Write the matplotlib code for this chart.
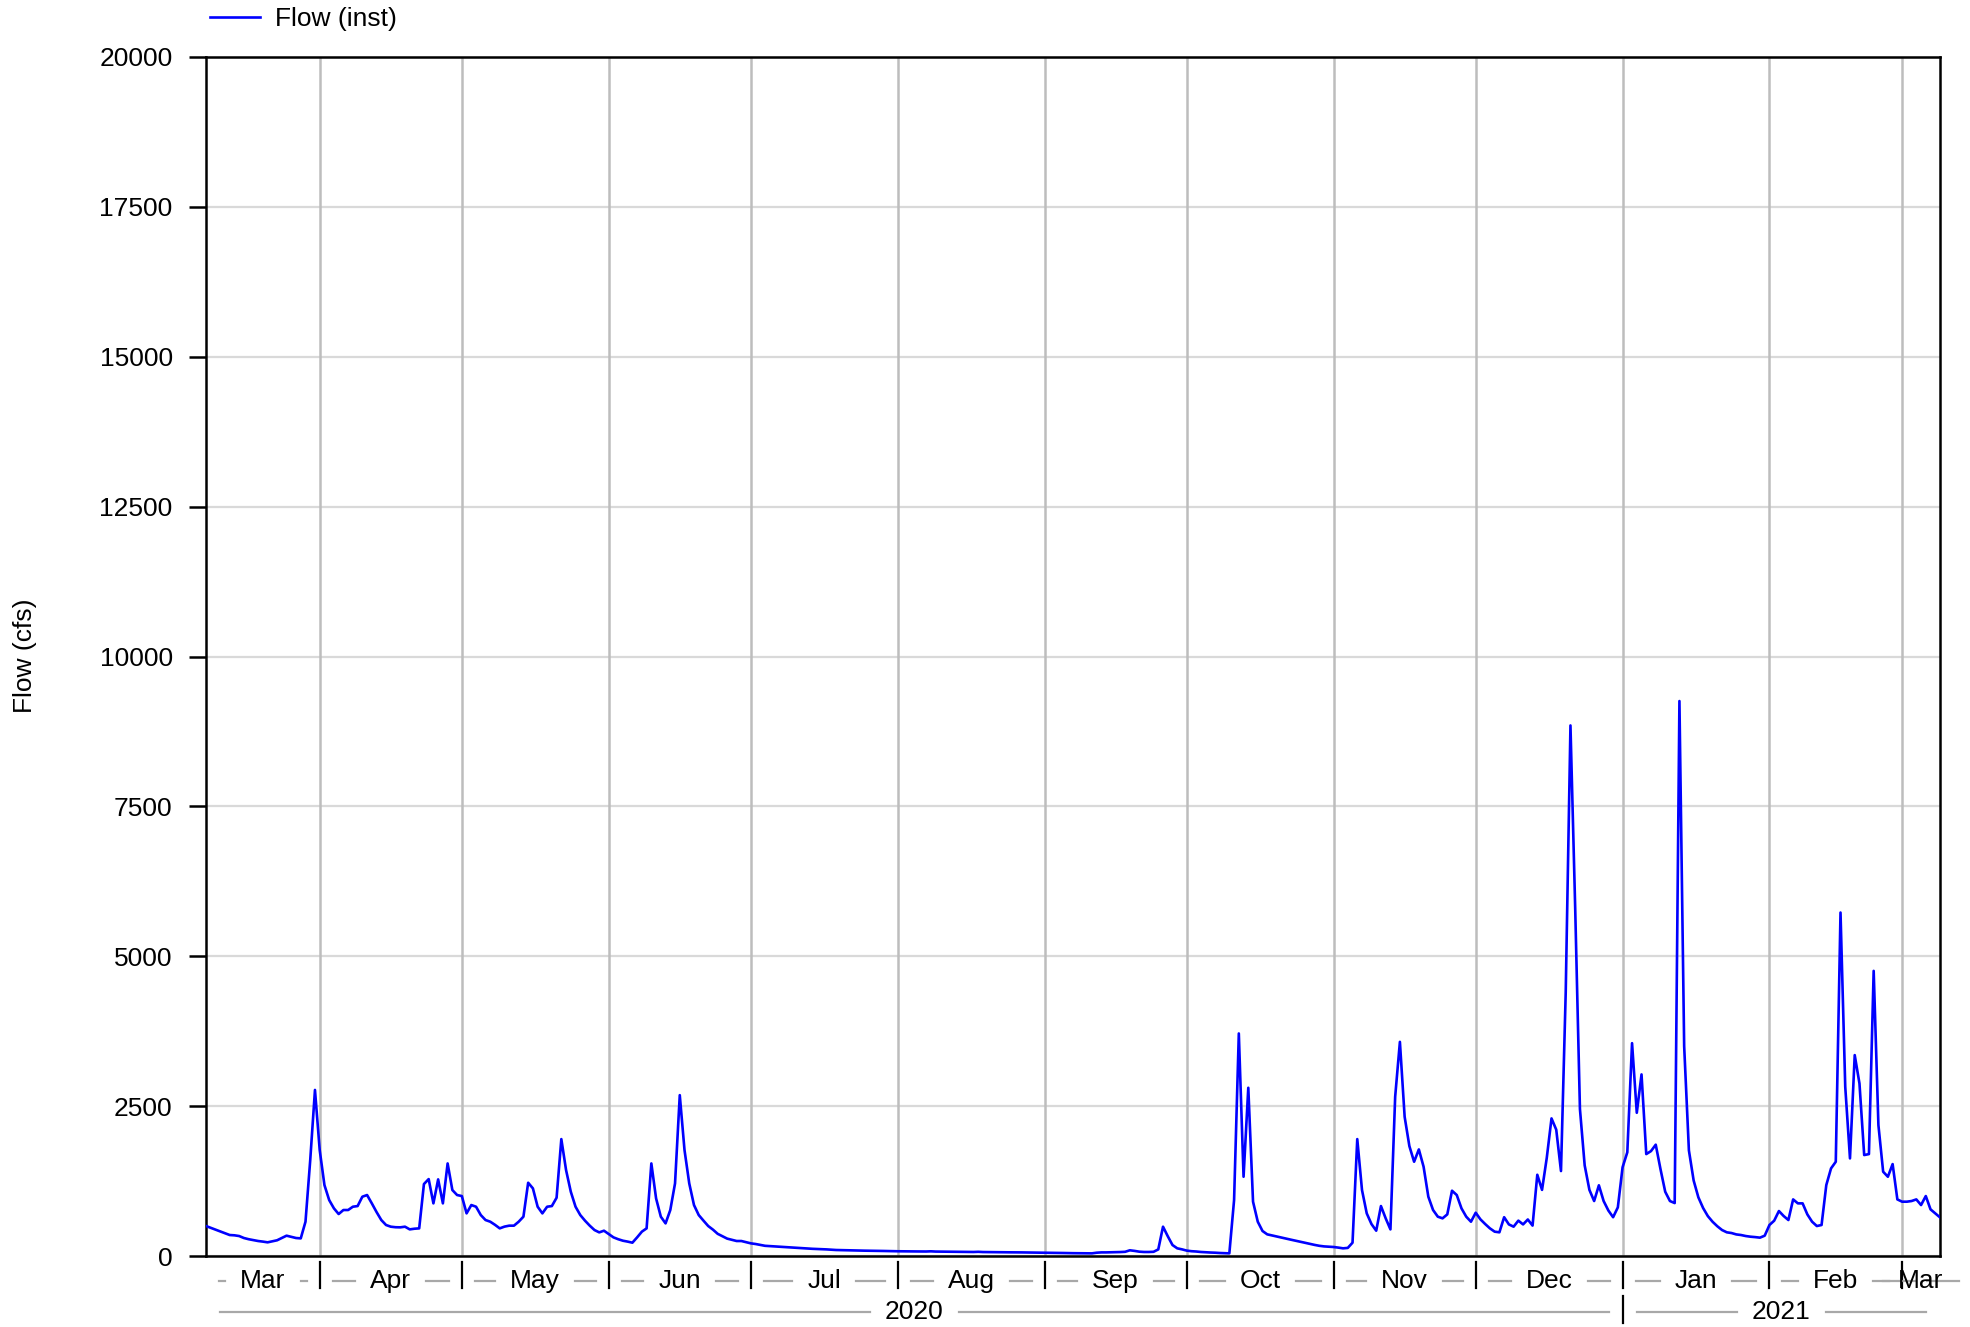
import datetime as dt
import numpy as np
import matplotlib
matplotlib.use("Agg")
import matplotlib.pyplot as plt
import matplotlib.dates as mdates
from matplotlib.transforms import blended_transform_factory

plt.rcParams['font.family'] = ['Liberation Sans', 'DejaVu Sans']

# daily flow (cfs), one list per month
start_day = dt.date(2020, 3, 8)
flow_mar20 = [500, 470, 440, 410, 380, 350, 345, 333, 300, 280, 265, 250, 240, 228,
              245, 262, 300, 339, 320, 300, 294, 572, 1600, 2770]
flow_apr20 = [1767, 1183, 933, 795, 700, 767, 767, 822, 833, 989, 1017, 878, 733, 600,
              517, 489, 480, 478, 489, 444, 455, 461, 1200, 1283, 878, 1278, 878, 1544,
              1100, 1017]
flow_may20 = [1000, 711, 850, 822, 683, 600, 572, 520, 461, 490, 506, 506, 572, 656,
              1222, 1128, 822, 711, 822, 833, 972, 1950, 1433, 1072, 822, 683, 589, 506,
              433, 394, 422]
flow_jun20 = [367, 311, 280, 255, 240, 222, 311, 406, 461, 1544, 961, 656, 544, 767,
              1211, 2683, 1767, 1211, 850, 683, 590, 500, 440, 370, 330, 290, 270, 250,
              250, 230]
flow_jul20 = [211, 200, 185, 170, 165, 160, 155, 150, 145, 140, 135, 130, 125, 120, 117,
              113, 110, 105, 100, 98, 96, 95, 93, 91, 89, 88, 87, 85, 84, 82, 80]
flow_aug20 = [79, 78, 78, 77, 76, 76, 75, 78, 74, 73, 72, 72, 71, 70, 69, 68, 67, 70, 66,
              65, 64, 64, 63, 62, 61, 61, 60, 59, 58, 57, 56]
flow_sep20 = [55, 54, 53, 52, 50, 48, 47, 46, 45, 44, 44, 55, 60, 60, 62, 64, 66, 70, 95,
              85, 72, 67, 67, 70, 110, 489, 330, 183, 128, 111]
flow_oct20 = [90, 80, 75, 67, 62, 58, 55, 50, 47, 44, 933, 3712, 1322, 2806, 906, 572,
              417, 361, 343, 326, 308, 290, 272, 255, 237, 220, 202, 185, 170, 160, 155]
flow_nov20 = [150, 140, 128, 135, 222, 1950, 1100, 711, 533, 422, 833, 628, 444, 2656,
              3572, 2322, 1833, 1572, 1778, 1489, 989, 767, 656, 628, 694, 1089, 1017,
              794, 656, 572]
flow_dec20 = [722, 611, 533, 461, 406, 395, 647, 527, 489, 590, 527, 609, 507, 1355, 1103,
              1637, 2295, 2107, 1417, 4400, 8850, 5800, 2452, 1512, 1103, 917, 1179, 917,
              759, 647, 811]
flow_jan21 = [1480, 1730, 3550, 2389, 3029, 1700, 1750, 1857, 1450, 1072, 917, 883, 9257,
              3500, 1762, 1260, 978, 800, 665, 571, 496, 433, 395, 383, 360, 350, 333,
              322, 315, 306, 339]
flow_feb21 = [517, 589, 750, 667, 600, 944, 878, 878, 694, 572, 500, 517, 1183, 1461,
              1572, 5729, 2822, 1628, 3351, 2878, 1684, 1700, 4756, 2184, 1406, 1322,
              1533, 944]
flow_mar21 = [906, 906, 917, 944, 850, 1000, 778, 711, 644]

month_names = ['Mar', 'Apr', 'May', 'Jun', 'Jul', 'Aug', 'Sep', 'Oct', 'Nov', 'Dec',
               'Jan', 'Feb', 'Mar']
year_names = ['2020', '2021']
y_ticks = np.arange(0, 20001, 2500)

flow = (flow_mar20 + flow_apr20 + flow_may20 + flow_jun20 + flow_jul20 + flow_aug20 +
        flow_sep20 + flow_oct20 + flow_nov20 + flow_dec20 + flow_jan21 + flow_feb21 +
        flow_mar21)
dates = [start_day + dt.timedelta(days=i) for i in range(len(flow))]
xnum = mdates.date2num(dates)

month_starts = [dt.date(2020, m, 1) for m in range(4, 13)] + \
               [dt.date(2021, m, 1) for m in (1, 2, 3)]
ms_num = mdates.date2num(month_starts)
jan1 = mdates.date2num(dt.date(2021, 1, 1))

FS = 19
W, H = 1970, 1327
fig = plt.figure(figsize=(W / 100, H / 100), dpi=100)
ax = fig.add_axes([206 / W, 1 - 1256 / H, (1940 - 206) / W, (1256 - 57) / H])

ax.plot(xnum, flow, color='#0000ff', lw=1.9, label='Flow (inst)', zorder=3)
ax.set_xlim(xnum[0], xnum[-1])
ax.set_ylim(0, 20000)
ax.set_yticks(y_ticks)
ax.set_yticklabels([str(v) for v in y_ticks])
ax.yaxis.grid(True, color='#d9d9d9', lw=1.6)
ax.set_axisbelow(True)
for m in ms_num:
    ax.axvline(m, color='#bdbdbd', lw=1.8, zorder=1)
ax.set_xticks([])
ax.tick_params(axis='y', length=12, width=1.8, pad=12, labelsize=FS, colors='black')
for s in ax.spines.values():
    s.set_color('black')
    s.set_linewidth(1.8)

# x axis: month and year bands drawn under the axes
tr = blended_transform_factory(ax.transData, ax.transAxes)
for m in ms_num:
    ax.plot([m, m], [-0.005, -0.027], color='black', lw=1.6, transform=tr, clip_on=False)
ax.plot([jan1, jan1], [-0.033, -0.056], color='black', lw=1.6, transform=tr, clip_on=False)

m_y, yr_y = -0.021, -0.047
m_bounds = [xnum[0]] + list(ms_num) + [xnum[-1]]
y_bounds = [xnum[0], jan1, xnum[-1]]
m_texts, y_texts = [], []
for i, name in enumerate(month_names):
    c = (m_bounds[i] + m_bounds[i + 1]) / 2
    m_texts.append(ax.text(c, m_y, name, transform=tr, ha='center', va='center',
                           fontsize=FS))
for i, name in enumerate(year_names):
    c = (y_bounds[i] + y_bounds[i + 1]) / 2
    y_texts.append(ax.text(c, yr_y, name, transform=tr, ha='center', va='center',
                           fontsize=FS))

fig.canvas.draw()
rend = fig.canvas.get_renderer()
px = (xnum[-1] - xnum[0]) / ax.get_window_extent().width  # days per pixel


def dashes(texts, bounds, yy, gap_b, gap_t):
    for i, t in enumerate(texts):
        bb = t.get_window_extent(rend)
        x0 = ax.transData.inverted().transform((bb.x0, 0))[0]
        x1 = ax.transData.inverted().transform((bb.x1, 0))[0]
        ax.plot([bounds[i] + gap_b * px, x0 - gap_t * px], [yy, yy], color='#a8a8a8',
                lw=1.6, transform=tr, clip_on=False)
        ax.plot([x1 + gap_t * px, bounds[i + 1] - gap_b * px], [yy, yy], color='#a8a8a8',
                lw=1.6, transform=tr, clip_on=False)


dashes(m_texts, m_bounds, m_y, 13, 15)
dashes(y_texts, y_bounds, yr_y, 14, 15)

fig.text(25 / W, 1 - 656 / H, 'Flow (cfs)', rotation=90, ha='center', va='center',
         fontsize=FS)
ax.legend(loc='center left', bbox_to_anchor=(210 / W, 1 - 19 / H),
          bbox_transform=fig.transFigure, frameon=False, borderpad=0, borderaxespad=0,
          handlelength=1.9, handletextpad=0.55, fontsize=FS)

fig.savefig('out.png', dpi=100)
